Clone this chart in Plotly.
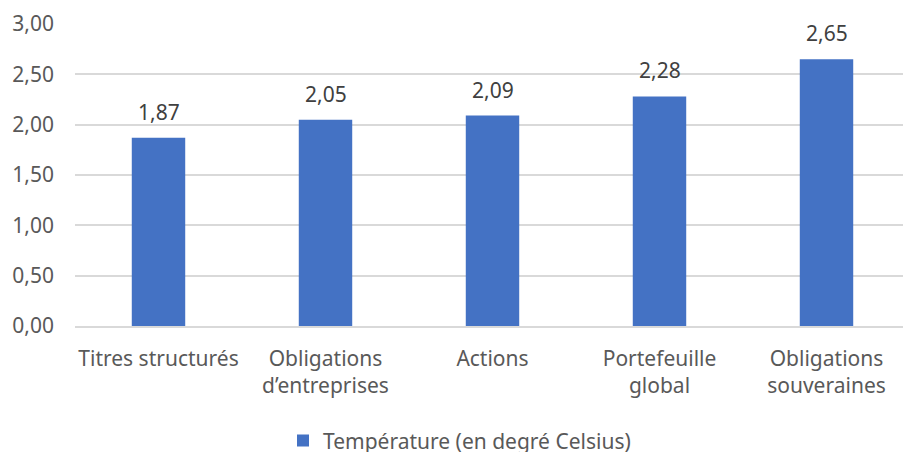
import plotly.graph_objects as go

categories = ["Titres structurés", "Obligations<br>d’entreprises", "Actions",
              "Portefeuille<br>global", "Obligations<br>souveraines"]
temperatures = [1.87, 2.05, 2.09, 2.28, 2.65]
series_name = "Température (en degré Celsius)"
y_ticks = [0, 0.5, 1, 1.5, 2, 2.5, 3]

font_family = "Source Sans Pro, Noto Sans, sans-serif"
grey = "#595959"
fsize = 21

fig = go.Figure(
    data=go.Bar(
        x=categories,
        y=temperatures,
        name=series_name,
        marker=dict(color="#4472C4", line=dict(width=0)),
        width=0.32,
        showlegend=True,
    )
)

# value labels above each bar
for cat, val in zip(categories, temperatures):
    fig.add_annotation(
        x=cat, y=val, text=f"{val:.2f}".replace(".", ","),
        showarrow=False, yanchor="bottom", yshift=10,
        font=dict(size=fsize, color="#404040"),
    )

# page body has an 8px margin, so the figure is a little smaller than the window
fig.update_layout(
    width=903,
    height=444,
    margin=dict(l=67, r=1, t=16, b=126, autoexpand=False),
    paper_bgcolor="white",
    plot_bgcolor="white",
    separators=", ",
    font=dict(family=font_family, size=fsize, color=grey),
    legend=dict(
        orientation="h",
        xref="container", yref="paper",
        x=0.5, xanchor="center",
        y=-0.38, yanchor="middle",
        font=dict(size=fsize, color=grey),
        itemwidth=30,
    ),
    xaxis=dict(
        automargin=False,
        showline=True, linecolor="#d9d9d9", linewidth=1.5,
        ticks="", ticklabelstandoff=13,
        tickfont=dict(size=fsize, color=grey),
    ),
    yaxis=dict(
        automargin=False,
        range=[0, 3],
        tickvals=y_ticks,
        tickformat=".2f",
        showgrid=True, gridcolor="#d9d9d9", gridwidth=1.5,
        zeroline=False,
        ticks="", ticklabelstandoff=20,
        tickfont=dict(size=fsize, color=grey),
    ),
)

fig.write_html("out.html")
